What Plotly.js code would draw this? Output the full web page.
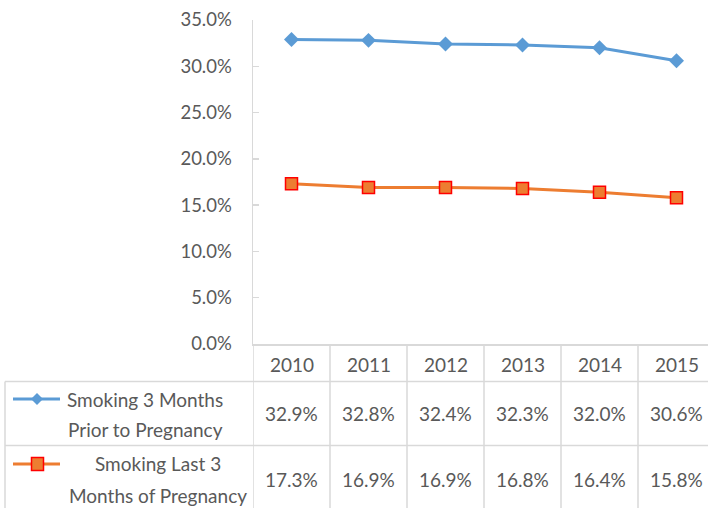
<!DOCTYPE html>
<html>
<head>
<meta charset="utf-8">
<script src="https://cdn.plot.ly/plotly-3.0.1.min.js"></script>
<style>html,body{margin:0;padding:0;background:#fff;overflow:hidden}</style>
</head>
<body>
<div id="chart" style="width:708px;height:508px"></div>
<script>
const years = ['2010','2011','2012','2013','2014','2015'];
const seriesNames = [['Smoking 3 Months','Prior to Pregnancy'],['Smoking Last 3','Months of Pregnancy']];
const priorValues = [0.329, 0.328, 0.324, 0.323, 0.320, 0.306];
const lastValues = [0.173, 0.169, 0.169, 0.168, 0.164, 0.158];
const yTicks = [0, 0.05, 0.10, 0.15, 0.20, 0.25, 0.30, 0.35];

const W = 708, H = 508, L = 253, T = 20, B = 344;
const PW = W - L, PH = B - T;
const px = v => (v - L) / PW;      // pixel x -> paper x
const py = v => (B - v) / PH;      // pixel y -> paper y
const colW = 77;
const xMax = -0.5 + PW / colW;

const blue = '#5B9BD5', orange = '#ED7D31', grid = '#D9D9D9', txt = '#595959';
const font = 'Lato, "Open Sans", sans-serif';

const idx = years.map((_, i) => i);
const traces = [
  {x: idx, y: priorValues, type: 'scatter', mode: 'lines+markers',
   line: {color: blue, width: 3},
   marker: {symbol: 'diamond', size: 11.5, color: blue},
   cliponaxis: false, hoverinfo: 'skip'},
  {x: idx, y: lastValues, type: 'scatter', mode: 'lines+markers',
   line: {color: orange, width: 3},
   marker: {symbol: 'square', size: 12, color: orange, line: {color: '#FF0000', width: 1.5}},
   cliponaxis: false, hoverinfo: 'skip'}
];

const shapes = [];
const lineStyle = {color: grid, width: 1.5};
for (let i = 0; i <= years.length; i++) {
  shapes.push({type: 'line', xref: 'x', yref: 'paper', x0: i - 0.5, x1: i - 0.5,
    y0: 0, y1: py(508), line: lineStyle});
}
[381.5, 445.5].forEach(yy => shapes.push({type: 'line', xref: 'paper', yref: 'paper',
  x0: px(5), x1: 1, y0: py(yy), y1: py(yy), line: lineStyle}));
shapes.push({type: 'line', xref: 'paper', yref: 'paper', x0: px(5), x1: px(5),
  y0: py(381.5), y1: py(508), line: lineStyle});

shapes.push({type: 'line', xref: 'paper', yref: 'paper', x0: px(13), x1: px(60),
  y0: py(399), y1: py(399), line: {color: blue, width: 3}});
const dk = (cx, cy, r) => `M${px(cx - r)},${py(cy)} L${px(cx)},${py(cy - r)} L${px(cx + r)},${py(cy)} L${px(cx)},${py(cy + r)} Z`;
shapes.push({type: 'path', xref: 'paper', yref: 'paper', path: dk(37, 399, 6),
  fillcolor: blue, line: {color: blue, width: 0}});
shapes.push({type: 'line', xref: 'paper', yref: 'paper', x0: px(13), x1: px(60),
  y0: py(464), y1: py(464), line: {color: orange, width: 3}});
shapes.push({type: 'rect', xref: 'paper', yref: 'paper', x0: px(31.5), x1: px(43.5),
  y0: py(470.5), y1: py(457.5), fillcolor: orange, line: {color: '#FF0000', width: 1.5}});

const annotations = [];
const tfont = {family: font, size: 19, color: txt};
years.forEach((y, i) => {
  annotations.push({xref: 'x', yref: 'paper', x: i, y: py(364), text: y, showarrow: false,
    xanchor: 'center', yanchor: 'middle', font: tfont});
  annotations.push({xref: 'x', yref: 'paper', x: i, y: py(413), text: (priorValues[i] * 100).toFixed(1) + '%',
    showarrow: false, xanchor: 'center', yanchor: 'middle', font: tfont});
  annotations.push({xref: 'x', yref: 'paper', x: i, y: py(479), text: (lastValues[i] * 100).toFixed(1) + '%',
    showarrow: false, xanchor: 'center', yanchor: 'middle', font: tfont});
});
const legPos = [[145, 400, 429], [157.5, 464, 495]];
seriesNames.forEach((nm, s) => {
  const [cx, y1, y2] = legPos[s];
  annotations.push({xref: 'paper', yref: 'paper', x: px(cx), y: py(y1), text: nm[0], showarrow: false,
    xanchor: 'center', yanchor: 'middle', font: tfont});
  annotations.push({xref: 'paper', yref: 'paper', x: px(cx), y: py(y2), text: nm[1], showarrow: false,
    xanchor: 'center', yanchor: 'middle', font: tfont});
});

const layout = {
  width: W, height: H,
  margin: {l: L, r: 0, t: T, b: H - B, pad: 0},
  paper_bgcolor: '#fff', plot_bgcolor: '#fff',
  showlegend: false,
  xaxis: {range: [-0.5, xMax], fixedrange: true, showgrid: false, zeroline: false,
    showticklabels: false, ticks: '', showline: true, linecolor: grid, linewidth: 1.5},
  yaxis: {range: [0, 0.35], fixedrange: true, tickvals: yTicks, tickformat: '.1%',
    showgrid: false, zeroline: false, showline: true, linecolor: grid, linewidth: 1.5,
    ticks: 'inside', ticklen: 6, tickcolor: grid, tickwidth: 1.5,
    ticklabelstandoff: 16, tickfont: {family: font, size: 18.5, color: txt}},
  shapes: shapes,
  annotations: annotations
};
Plotly.newPlot('chart', traces, layout, {staticPlot: true, displayModeBar: false});
</script>
</body>
</html>
